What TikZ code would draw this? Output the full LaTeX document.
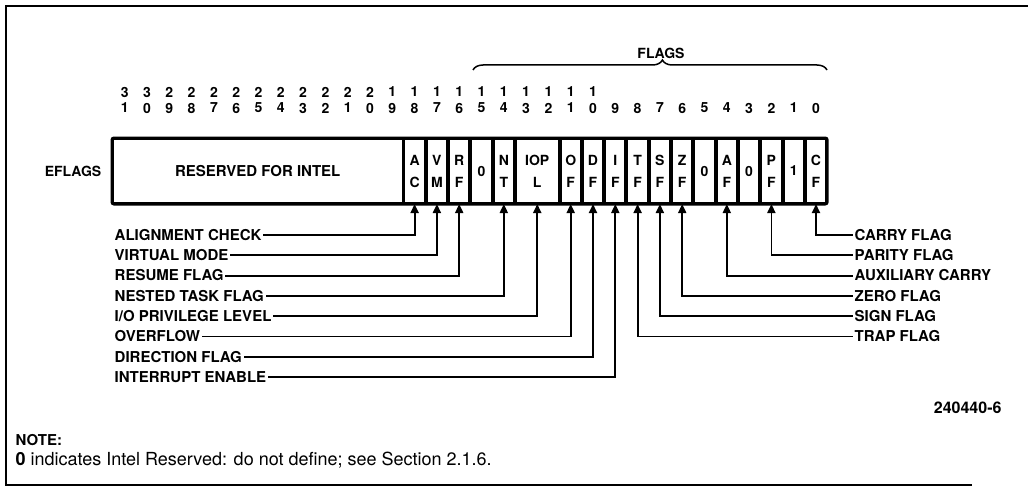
\documentclass[tikz,border=0pt]{standalone}
\usepackage{fontspec}
\setmainfont{TeX Gyre Heros}
\usetikzlibrary{arrows.meta,decorations.pathreplacing}

% x position of a bit column
\newcommand{\bitx}[1]{816-22.3*#1}

\tikzset{
  lbl/.style={font=\bfseries\fontsize{15}{15}\selectfont, inner sep=1.5pt, text height=10.5pt, text depth=0pt},
  digit/.style={font=\bfseries\fontsize{14}{14}\selectfont, inner sep=0pt},
  cell/.style={draw, line width=2pt, minimum width=20.3pt, minimum height=64pt, inner sep=0pt,
    align=center, font=\bfseries\fontsize{14}{22}\selectfont},
  arr/.style={line width=1.8pt, {Triangle[length=9pt,width=8pt]}-},
}

\begin{document}
\begin{tikzpicture}[x=1pt,y=-1pt]
  \useasboundingbox (0,0) rectangle (1028,487);
  % frame
  \draw[line width=2pt] (1028,6) -- (6,6) -- (6,485) -- (972,485);

  % bit numbers
  \foreach \b in {0,...,31} {
    \pgfmathtruncatemacro{\units}{mod(\b,10)}
    \pgfmathtruncatemacro{\tens}{div(\b,10)}
    \node[digit] (u\b) at ({\bitx{\b}},108) {\units};
    \ifnum\b>9 \node[digit] (t\b) at ({\bitx{\b}},92) {\tens}; \fi
  }

  % flags brace
  \coordinate (fl) at (473,70);
  \coordinate (fr) at (827,70);
  \draw[line width=1.5pt, decorate, decoration={brace, amplitude=10pt, aspect=0.535}] (fl) -- (fr);
  \node[digit] (flags) at (661,53) {FLAGS};

  % register
  \node[cell, minimum width=289.5pt, font=\bfseries\fontsize{15}{15}\selectfont] (res) at (257.75,171) {RESERVED FOR INTEL};
  \foreach \b/\nm/\txt in {18/ac/{A\\C}, 17/vm/{V\\M}, 16/rf/{R\\F}, 15/r15/0, 14/nt/{N\\T},
      11/of/{O\\F}, 10/df/{D\\F}, 9/if/{I\\F}, 8/tf/{T\\F}, 7/sf/{S\\F}, 6/zf/{Z\\F},
      5/r5/0, 4/af/{A\\F}, 3/r3/0, 2/pf/{P\\F}, 1/r1/1, 0/cf/{C\\F}}
    \node[cell] (\nm) at ({\bitx{\b}},171) {\txt};
  \node[cell, minimum width=42.6pt] (iopl) at ({\bitx{12.5}},171) {IOP\\L};
  \draw[line width=3pt, rounded corners=2pt] (res.north west) rectangle (cf.south east);
  \node[lbl, font=\bfseries\fontsize{14}{14}\selectfont] (eflags) at (73,171) {EFLAGS};

  % left labels
  \foreach \k/\nm/\txt in {0/ac/ALIGNMENT CHECK, 1/vm/VIRTUAL MODE, 2/rf/RESUME FLAG,
      3/nt/NESTED TASK FLAG, 4/iopl/{I/O PRIVILEGE LEVEL}, 5/of/OVERFLOW,
      6/df/DIRECTION FLAG, 7/if/INTERRUPT ENABLE} {
    \node[lbl, anchor=west] (l\nm) at (113,{235+20.3*\k}) {\txt};
    \draw[arr] (\nm.south) |- (l\nm.east);
  }
  % right labels
  \foreach \k/\nm/\txt in {0/cf/CARRY FLAG, 1/pf/PARITY FLAG, 2/af/AUXILIARY CARRY,
      3/zf/ZERO FLAG, 4/sf/SIGN FLAG, 5/tf/TRAP FLAG} {
    \node[lbl, anchor=west] (r\nm) at (853,{235+20.3*\k}) {\txt};
    \draw[arr] (\nm.south) |- (r\nm.west);
  }

  % figure number and note
  \node[font=\bfseries\fontsize{16}{16}\selectfont, anchor=east] (fig) at (1005,408) {240440-6};
  \node[font=\bfseries\fontsize{15}{15}\selectfont, anchor=west] (note) at (12,440) {NOTE:};
  \node[font=\fontsize{18}{18}\selectfont, anchor=west] (notetxt) at (12,460)
    {\textbf{0} indicates Intel Reserved: do not define; see Section 2.1.6.};
\end{tikzpicture}
\end{document}
